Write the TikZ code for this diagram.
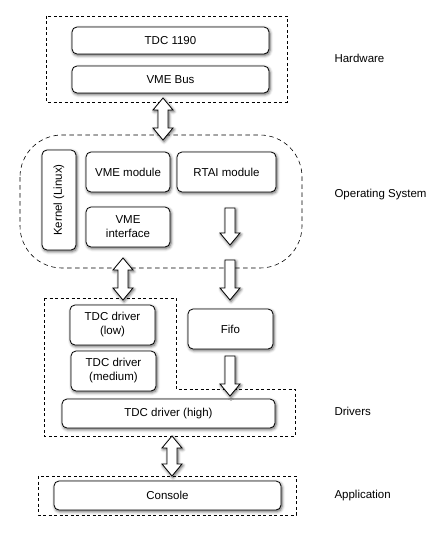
\documentclass[tikz,border=0pt]{standalone}
\usepackage{fontspec}
\setmainfont{Liberation Sans}
\usepackage{tikz}
\usetikzlibrary{calc,shadows.blur}

\newcommand{\dblarrow}[2]{%
  \path[fat] let \p1=(#1), \p2=(#2) in
    (\x1,\y1) -- (\x1+10pt,\y1-12pt) -- (\x1+5pt,\y1-12pt) -- (\x1+5pt,\y2+12pt)
    -- (\x1+10pt,\y2+12pt) -- (\x1,\y2) -- (\x1-10pt,\y2+12pt) -- (\x1-5pt,\y2+12pt)
    -- (\x1-5pt,\y1-12pt) -- (\x1-10pt,\y1-12pt) -- cycle;}
\newcommand{\sglarrow}[2]{%
  \path[fat] let \p1=(#1), \p2=(#2) in
    (\x1-5pt,\y1) -- (\x1+5pt,\y1) -- (\x1+5pt,\y2+12pt) -- (\x1+10pt,\y2+12pt)
    -- (\x1,\y2) -- (\x1-10pt,\y2+12pt) -- (\x1-5pt,\y2+12pt) -- cycle;}

\begin{document}
\begin{tikzpicture}[x=1pt, y=-1pt,
    every node/.style={font=\fontsize{11.5}{14}\selectfont},
    box/.style={draw, fill=white, rounded corners=5pt, line width=0.8pt, inner sep=0pt,
      align=center, blur shadow={shadow xshift=1pt, shadow yshift=-1.5pt, shadow blur radius=3pt, shadow opacity=65}},
    group/.style={draw, line width=0.6pt, dash pattern=on 3pt off 2.5pt},
    layer/.style={anchor=west},
    fat/.style={draw, fill=white, line width=0.8pt, line join=miter,
      blur shadow={shadow xshift=1pt, shadow yshift=-1.5pt, shadow blur radius=3pt, shadow opacity=65}}]
  \useasboundingbox (0,0) rectangle (443,540);

  % layer outlines
  \draw[group] (46,16) rectangle (287,102);
  \draw[group, dash pattern=on 4.5pt off 3.5pt, rounded corners=42pt] (20,135) rectangle (302,268);
  \draw[group] (44,298) -- (176,298) -- (176,389) -- (295,389) -- (295,436) -- (44,436) -- cycle;
  \draw[group] (38,476) rectangle (296,515);

  % hardware
  \node[box, minimum width=197pt, minimum height=27pt] (tdc) at (170.5,40.5) {TDC 1190};
  \node[box, minimum width=197pt, minimum height=27pt] (vmebus) at (170.5,79.5) {VME Bus};

  % operating system
  \node[box, minimum width=100pt, minimum height=34pt, rotate=90] (kernel) at (59,200) {Kernel (Linux)};
  \node[box, minimum width=84pt, minimum height=40pt] (vmemod) at (128,172) {VME module};
  \node[box, minimum width=99pt, minimum height=40pt] (rtai) at (226.5,172) {RTAI module};
  \node[box, minimum width=84pt, minimum height=40pt] (vmeif) at (128,227) {VME\\interface};

  % drivers
  \node[box, minimum width=85pt, minimum height=40pt] (drvlow) at (112.5,325) {TDC driver\\(low)};
  \node[box, minimum width=85pt, minimum height=40pt] (drvmed) at (113.5,371) {TDC driver\\(medium)};
  \node[box, minimum width=85pt, minimum height=40pt] (fifo) at (230.5,329) {Fifo};
  \node[box, minimum width=213pt, minimum height=29pt] (drvhigh) at (168.5,413.5) {TDC driver (high)};

  % application
  \node[box, minimum width=227pt, minimum height=29pt] (console) at (167.5,495.5) {Console};

  % layer names
  \node[layer] (lhw) at (331,58) {Hardware};
  \node[layer] (los) at (331,195) {Operating System};
  \node[layer] (ldrv) at (331,411) {Drivers};
  \node[layer] (lapp) at (331,496) {Application};

  % arrow ends
  \coordinate (bus1) at (163,98);
  \coordinate (bus2) at (163,140);
  \coordinate (if1) at (123,258);
  \coordinate (if2) at (123,300);
  \coordinate (rt1) at (230,208);
  \coordinate (rt2) at (230,245);
  \coordinate (ff1) at (230,260);
  \coordinate (ff2) at (230,300);
  \coordinate (hi1) at (230,356);
  \coordinate (hi2) at (230,396);
  \coordinate (app1) at (172,436);
  \coordinate (app2) at (172,476);

  \dblarrow{bus1}{bus2}
  \dblarrow{if1}{if2}
  \sglarrow{rt1}{rt2}
  \sglarrow{ff1}{ff2}
  \sglarrow{hi1}{hi2}
  \dblarrow{app1}{app2}
\end{tikzpicture}
\end{document}
